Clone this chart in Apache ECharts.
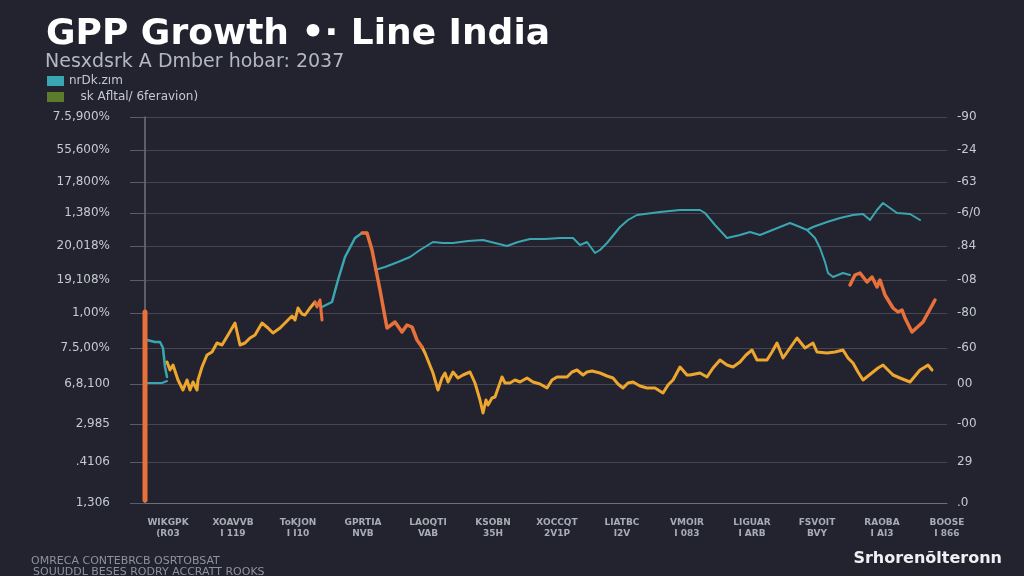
<!DOCTYPE html>
<html>
<head>
<meta charset="utf-8">
<script src="https://cdn.jsdelivr.net/npm/echarts@6/dist/echarts.min.js"></script>
<style>
  html, body { margin: 0; padding: 0; background: #22232e; }
  #chart { width: 1024px; height: 576px; }
</style>
</head>
<body>
<div id="chart"></div>
<script>
// ---- text ----
const titleText = 'GPP Growth •· Line India';
const subtitleText = 'Nesxdsrk A Dmber hobar: 2037';
const tealName = 'nrDk.zım';
const yellowName = 'sk Afltal/ 6feravion)';
const redName = 'Peak';
const footLine1 = 'OMRECA CONTEBRCB OSRTOBSAT';
const footLine2 = 'SOUUDDL BESES RODRY ACCRATT ROOKS';
const brandText = 'Srhorenõlteronn';

// ---- axes ----
const xTickValues = [23, 88, 153, 218, 283, 348, 412, 477, 542, 607, 672, 737, 802];
const xTickLabels = [
  'WIKGPK\n(R03', 'XOAVVB\nI 119', 'ToKJON\nI I10', 'GPRTIA\nNVB', 'LAOQTI\nVAB',
  'KSOBN\n35H', 'XOCCQT\n2V1P', 'LIATBC\nI2V', 'VMOIR\nI 083', 'LIGUAR\nI ARB',
  'FSVOIT\nBVY', 'RAOBA\nI AI3', 'BOOSE\nI 866'
];
const yTickValues = [0, 41, 79, 119, 155, 190, 223, 257, 290, 321, 353, 386];
const yLeftLabels = ['1,306', '.4106', '2,985', '6,8,100', '7.5,00%', '1,00%',
  '19,108%', '20,018%', '1,380%', '17,800%', '55,600%', '7.5,900%'];
const yRightLabels = ['.0', '29', '-00', '00', '-60', '-80', '-08', '.84', '-6/0', '-63', '-24', '-90'];

// ---- series values [x, y] ----
const startDrop = [[0, 191], [0, 3]];
const tealBase = [[2, 120], [10, 120], [17, 120], [22, 122]];
const tealStart = [[2, 163], [10, 161], [15, 161], [18, 155], [20, 136], [22, 126]];
const yellowA = [[22, 141], [25, 133], [28, 138], [33, 123], [38, 113], [42, 123], [45, 113], [48, 121],
  [52, 113], [53, 123], [57, 136], [62, 148], [67, 151], [72, 160], [77, 158], [83, 168], [90, 180],
  [95, 158], [100, 160], [105, 165], [110, 168], [117, 180], [123, 175], [128, 170], [135, 175],
  [140, 180], [143, 183], [147, 187], [150, 183], [153, 195], [157, 189], [160, 188], [165, 195],
  [170, 201]];
const redA = [[170, 201], [172, 196], [175, 203], [177, 183]];
const tealRise = [[177, 196], [187, 201], [193, 223], [200, 246], [210, 265], [217, 270], [222, 270]];
const redDrop = [[217, 270], [222, 270], [227, 253], [235, 213], [242, 175], [250, 181], [257, 171],
  [262, 178], [267, 176], [272, 163], [277, 156]];
const yellowB = [[277, 156], [280, 150], [288, 130], [290, 123], [293, 113], [297, 125], [300, 130],
  [303, 121], [308, 131], [313, 125], [318, 128], [325, 131], [330, 120], [335, 103], [338, 90],
  [341, 103], [343, 98], [347, 105], [350, 106], [357, 126], [360, 120], [365, 120], [370, 123],
  [375, 121], [382, 125], [388, 121], [395, 119], [402, 115], [407, 123], [412, 126], [422, 126],
  [427, 131], [432, 133], [438, 128], [442, 131], [447, 132], [455, 130], [462, 127], [468, 125],
  [473, 119], [478, 115], [483, 120], [488, 121], [495, 117], [502, 115], [510, 115], [518, 110],
  [523, 118], [528, 123], [535, 136], [542, 128], [545, 128], [555, 130], [562, 126], [568, 135],
  [575, 143], [582, 138], [588, 136], [595, 141], [601, 148], [607, 153], [612, 143], [622, 143],
  [627, 151], [632, 160], [638, 145], [645, 155], [652, 165], [656, 160], [660, 155], [668, 160],
  [672, 151], [682, 150], [690, 151], [698, 153], [703, 145], [708, 140], [713, 131], [718, 123],
  [723, 127], [728, 131], [733, 135], [738, 138], [743, 133], [748, 128], [755, 125], [765, 121],
  [770, 127], [775, 133], [780, 136], [783, 138], [787, 133]];
const tealUpper = [[230, 233], [240, 236], [253, 241], [265, 246], [275, 253], [288, 261], [298, 260],
  [308, 260], [323, 262], [338, 263], [350, 260], [362, 257], [373, 261], [385, 264], [400, 264],
  [415, 265], [428, 265], [435, 258], [442, 261], [450, 250], [455, 253], [462, 260], [475, 276],
  [483, 283], [492, 288], [515, 291], [535, 293], [555, 293], [560, 290], [570, 278], [582, 265],
  [595, 268], [605, 271], [615, 268], [630, 274], [645, 280], [655, 276], [662, 273], [668, 276],
  [682, 281], [695, 285], [708, 288], [718, 289], [725, 283], [732, 293], [738, 300], [745, 295],
  [752, 290], [765, 289], [775, 283]];
const tealDrop = [[662, 273], [670, 265], [675, 255], [680, 241], [683, 230], [688, 226], [698, 230], [705, 228]];
const redEnd = [[705, 218], [710, 228], [715, 230], [722, 221], [727, 226], [732, 216], [735, 223],
  [740, 208], [748, 195], [753, 191], [757, 193], [760, 185], [767, 171], [778, 181], [790, 203]];

// ---- colours ----
const TEAL = '#3aa6b2';
const YELLOW = '#eea62e';
const RED = '#e8703a';
const OLIVE = '#5c7c2c';

function line(name, data, color, width, z) {
  return {
    type: 'line', name: name, data: data, showSymbol: false, symbol: 'none',
    lineStyle: { color: color, width: width, cap: 'round', join: 'round' },
    itemStyle: { color: color }, z: z || 2, clip: false, silent: true, animation: false
  };
}

const chart = echarts.init(document.getElementById('chart'));
chart.setOption({
  backgroundColor: '#22232e',
  animation: false,
  title: [
    { text: titleText, left: 41, top: 12,
      textStyle: { color: '#ffffff', fontSize: 36, fontWeight: 'bold', fontFamily: 'DejaVu Sans' } },
    { text: subtitleText, left: 40, top: 48,
      textStyle: { color: '#b4b8c1', fontSize: 19, fontWeight: 'normal', fontFamily: 'DejaVu Sans' } },
    { text: footLine1, left: 26, top: 551,
      textStyle: { color: '#8e929c', fontSize: 11, fontWeight: 'normal', fontFamily: 'DejaVu Sans' } },
    { text: footLine2, left: 28, top: 562,
      textStyle: { color: '#8e929c', fontSize: 11, fontWeight: 'normal', fontFamily: 'DejaVu Sans' } },
    { text: brandText, right: 17, top: 546,
      textStyle: { color: '#f0f0f4', fontSize: 16, fontWeight: 'bold', fontFamily: 'DejaVu Sans' } }
  ],
  legend: {
    orient: 'vertical', left: 42, top: 70, itemWidth: 17, itemHeight: 10, itemGap: 4,
    icon: 'rect', selectedMode: false,
    textStyle: { color: '#c4c8d0', fontSize: 12, fontFamily: 'DejaVu Sans' },
    data: [
      { name: tealName, itemStyle: { color: TEAL } },
      { name: yellowName, itemStyle: { color: OLIVE } }
    ],
    formatter: function (n) { return n === yellowName ? '   ' + n : n; }
  },
  grid: { left: 145, right: 77, top: 117, bottom: 73, containLabel: false },
  xAxis: {
    type: 'value', min: 0, max: 802,
    axisLine: { show: true, lineStyle: { color: '#6c707a', width: 1 } },
    axisTick: { show: false },
    splitLine: { show: false },
    axisLabel: {
      customValues: xTickValues, margin: 14, color: '#a8acb4', fontSize: 9, lineHeight: 11,
      fontFamily: 'DejaVu Sans', fontWeight: 'bold',
      formatter: function (v) { return xTickLabels[xTickValues.indexOf(v)] || ''; }
    }
  },
  yAxis: [
    {
      type: 'value', min: 0, max: 386, position: 'left',
      axisLine: { show: true, lineStyle: { color: '#70747e', width: 1.5 } },
      axisTick: { show: true, customValues: yTickValues, length: 15, lineStyle: { color: '#5a5e68' } },
      splitLine: { show: true, lineStyle: { color: '#444752', width: 1 } },
      axisLabel: {
        customValues: yTickValues, margin: 35, color: '#c6c9d1', fontSize: 12,
        fontFamily: 'DejaVu Sans',
        formatter: function (v) { return yLeftLabels[yTickValues.indexOf(v)] || ''; }
      }
    },
    {
      type: 'value', min: 0, max: 386, position: 'right',
      axisLine: { show: false }, axisTick: { show: false }, splitLine: { show: false },
      axisLabel: {
        customValues: yTickValues, margin: 10, color: '#c6c9d1', fontSize: 12,
        fontFamily: 'DejaVu Sans',
        formatter: function (v) { return yRightLabels[yTickValues.indexOf(v)] || ''; }
      }
    }
  ],
  series: [
    line(redName, startDrop, RED, 5, 3),
    line(tealName, tealBase, TEAL, 2, 2),
    line(tealName, tealStart, TEAL, 2.5, 2),
    line(yellowName, yellowA, YELLOW, 3, 3),
    line(redName, redA, RED, 3, 3),
    line(tealName, tealRise, TEAL, 2.5, 2),
    line(redName, redDrop, RED, 3.5, 4),
    line(yellowName, yellowB, YELLOW, 3, 3),
    line(tealName, tealUpper, TEAL, 2, 2),
    line(tealName, tealDrop, TEAL, 2, 2),
    line(redName, redEnd, RED, 3.5, 4)
  ]
});
</script>
</body>
</html>
